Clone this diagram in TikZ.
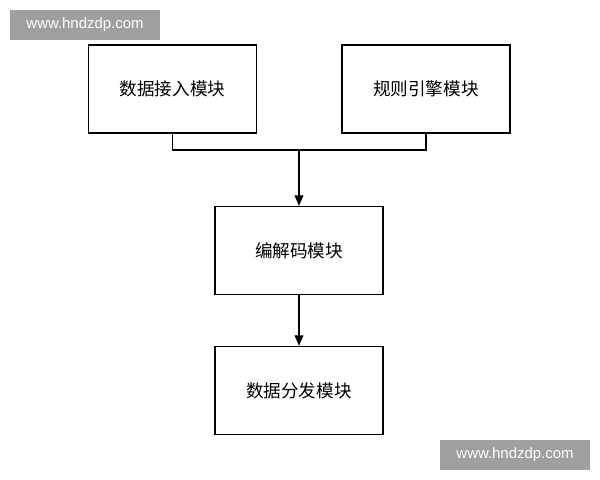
\documentclass[tikz,border=0pt]{standalone}
\usepackage{fontspec}
\newfontfamily\cjk{Noto Sans CJK SC}
\newfontfamily\wmfont{Liberation Sans}
\usetikzlibrary{calc}
\usetikzlibrary{arrows.meta}
\tikzset{
  modbox/.style={draw,thick,minimum width=3.36cm,minimum height=1.76cm,font=\cjk\fontsize{10}{12}\selectfont},
  wmark/.style={fill=gray!75,text=white,minimum width=3cm,minimum height=0.6cm,inner sep=0pt,font=\wmfont\fontsize{8.5}{10}\selectfont}
}
\begin{document}
\begin{tikzpicture}[x=0.02cm,y=-0.02cm]
  \path[use as bounding box] (0,0) rectangle (600,480);

  \node[modbox] (input) at (172.5,89) {数据接入模块};
  \node[modbox] (rule) at (426,89) {规则引擎模块};
  \node[modbox] (codec) at (299,250.5) {编解码模块};
  \node[modbox] (dispatch) at (299,390.5) {数据分发模块};

  \coordinate (J) at (299,150);
  \draw[thick] (input.south) |- (J) -| (rule.south);
  \draw[thick,-{Triangle[length=6pt,width=5pt]}] (J) -- (codec.north);
  \draw[thick,-{Triangle[length=6pt,width=5pt]}] (codec) -- (dispatch);

  \node[wmark] (wmtop) at (85,25) {www.hndzdp.com};
  \node[wmark] (wmbot) at (515,455) {www.hndzdp.com};
\end{tikzpicture}
\end{document}
